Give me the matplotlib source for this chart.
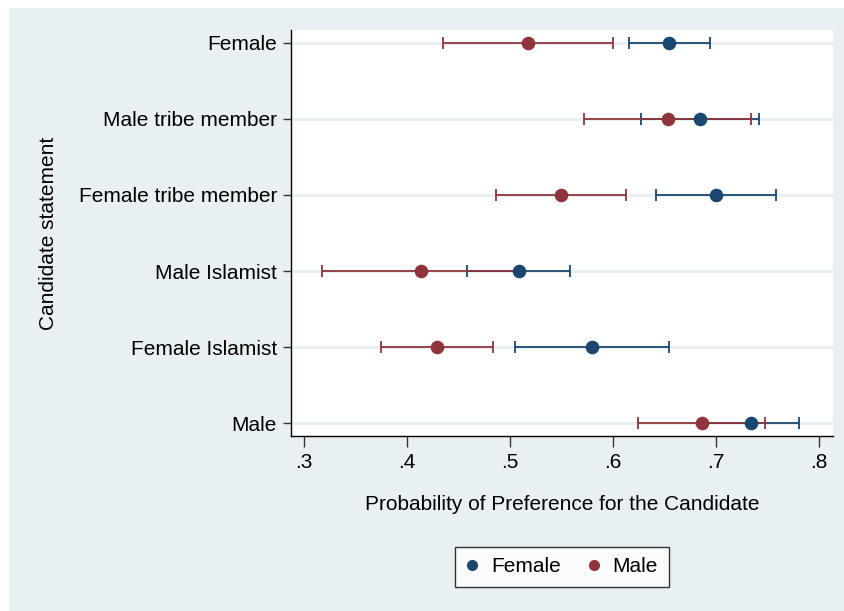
import numpy as np
import matplotlib
matplotlib.use("Agg")
import matplotlib.pyplot as plt
from matplotlib.patches import Rectangle
from matplotlib.lines import Line2D

plt.rcParams["font.family"] = ["Liberation Sans", "DejaVu Sans"]

# candidate statements, top to bottom
statements = ["Female", "Male tribe member", "Female tribe member",
              "Male Islamist", "Female Islamist", "Male"]

# female respondents: point estimate and 95% CI
female_est = [0.6546, 0.6846, 0.6995, 0.5082, 0.5796, 0.7341]
female_lo = [0.6155, 0.6274, 0.6413, 0.4580, 0.5047, 0.6868]
female_hi = [0.6935, 0.7414, 0.7581, 0.5585, 0.6541, 0.7802]

# male respondents
male_est = [0.5174, 0.6531, 0.5490, 0.4139, 0.4292, 0.6860]
male_lo = [0.4348, 0.5720, 0.4860, 0.3176, 0.3744, 0.6240]
male_hi = [0.5994, 0.7341, 0.6122, 0.5090, 0.4836, 0.7473]

xticks = [0.3, 0.4, 0.5, 0.6, 0.7, 0.8]
xticklabels = [".3", ".4", ".5", ".6", ".7", ".8"]

navy = "#1a476f"
maroon = "#90353b"
bg = "#e9f0f3"

fig = plt.figure(figsize=(8.45, 6.11), dpi=100, facecolor="white")
fig.patches.append(Rectangle((9 / 845, -0.01), 1, 1.01 - 8 / 611, transform=fig.transFigure,
                             facecolor=bg, edgecolor="none", zorder=-10))

ax = fig.add_axes([291 / 845, 1 - 436 / 611, (833 - 291) / 845, (436 - 30) / 611])
ax.set_facecolor("white")

ypos = np.arange(len(statements))[::-1]

for y in ypos:
    ax.axhline(y, color=bg, lw=2.2, zorder=0)

def draw_ci(est, lo, hi, color):
    est = np.array(est)
    ax.errorbar(est, ypos, xerr=[est - np.array(lo), np.array(hi) - est],
                fmt="none", ecolor=color, elinewidth=1.3, capsize=4.5,
                capthick=1.3, zorder=2)

draw_ci(female_est, female_lo, female_hi, navy)
draw_ci(male_est, male_lo, male_hi, maroon)
ax.plot(female_est, ypos, "o", color=navy, ms=9.8, mew=0, zorder=3)
ax.plot(male_est, ypos, "o", color=maroon, ms=9.8, mew=0, zorder=4)

ax.set_xlim(0.2874, 0.8133)
ax.set_ylim(-0.171, len(statements) - 1 + 0.171)
ax.set_xticks(xticks)
ax.set_xticklabels(xticklabels)
ax.set_yticks(ypos)
ax.set_yticklabels(statements)
ax.tick_params(axis="both", labelsize=15, color="#333333", width=1)
ax.tick_params(axis="x", length=8, pad=4.5)
ax.tick_params(axis="y", length=6, pad=4)

for s in ["top", "right"]:
    ax.spines[s].set_visible(False)
for s in ["left", "bottom"]:
    ax.spines[s].set_color("black")
    ax.spines[s].set_linewidth(1)

ax.set_xlabel("Probability of Preference for the Candidate", fontsize=15, labelpad=16)
ax.set_ylabel("Candidate statement", fontsize=15, labelpad=15)

handles = [Line2D([], [], ls="none", marker="o", color=navy, ms=8, mew=0),
           Line2D([], [], ls="none", marker="o", color=maroon, ms=8, mew=0)]
leg = fig.legend(handles, ["Female", "Male"], loc="center", ncol=2,
                 bbox_to_anchor=(562 / 845, 1 - 567 / 611), fontsize=15,
                 frameon=True, fancybox=False, handletextpad=0.6,
                 columnspacing=1.3, borderpad=0.5, handlelength=0.6)
leg.get_frame().set_edgecolor("black")
leg.get_frame().set_linewidth(1)

fig.savefig("out.png", dpi=100, facecolor=fig.get_facecolor())
